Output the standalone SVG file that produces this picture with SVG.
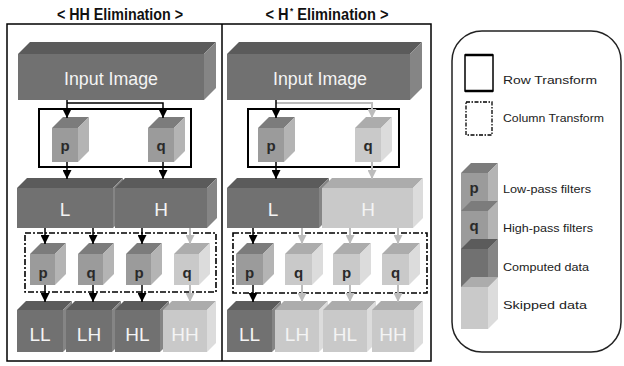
<svg xmlns="http://www.w3.org/2000/svg" width="624" height="366" viewBox="0 0 624 366">
<style>
.cf{fill:#717171}.ct{fill:#5b5b5b}.cs{fill:#858585}
.sf{fill:#c9c9c9}.st{fill:#acacac}.ss{fill:#dcdcdc}
.ff{fill:#9b9b9b}.ft{fill:#7c7c7c}.fs{fill:#b4b4b4}
.title{font-family:"Liberation Sans",Arial,sans-serif;font-size:16px;font-weight:bold;fill:#111;text-anchor:middle}
.big{font-family:"Liberation Sans",Arial,sans-serif;font-size:19px;fill:#f4f4f4;text-anchor:middle}
.blk{font-family:"Liberation Sans",Arial,sans-serif;font-size:19px;fill:#f4f4f4;text-anchor:middle}
.flt{font-family:"Liberation Sans",Arial,sans-serif;font-size:15px;font-weight:bold;fill:#2a2a2a;text-anchor:middle}
.leg{font-family:"Liberation Sans",Arial,sans-serif;font-size:11px;fill:#222}
.row{fill:none;stroke:#000;stroke-width:2}
.col{fill:none;stroke:#000;stroke-width:1.6;stroke-dasharray:6 2 2 2}
.ab{fill:none;stroke:#000;stroke-width:1.5;marker-end:url(#mb)}
.ag{fill:none;stroke:#bcbcbc;stroke-width:2;marker-end:url(#mg)}
</style>
<defs>
<marker id="mb" viewBox="0 0 10 10" refX="10" refY="5" markerWidth="9" markerHeight="9" markerUnits="userSpaceOnUse" orient="auto"><path d="M0,0 L10,5 L0,10 z" fill="#000"/></marker>
<marker id="mg" viewBox="0 0 10 10" refX="10" refY="5" markerWidth="9" markerHeight="9" markerUnits="userSpaceOnUse" orient="auto"><path d="M0,0 L10,5 L0,10 z" fill="#bcbcbc"/></marker>
</defs>
<rect width="624" height="366" fill="#fff"/>

<g id="titles">
<text class="title" x="120" y="20" textLength="126" lengthAdjust="spacingAndGlyphs">&lt; HH Elimination &gt;</text>
<text class="title" x="327" y="20" textLength="123" lengthAdjust="spacingAndGlyphs">&lt; H<tspan dx="1.5" dy="-6" font-size="9">*</tspan><tspan dy="6"> Elimination &gt;</tspan></text>
</g>

<g id="frame">
<rect x="7" y="24" width="424" height="337" fill="none" stroke="#000" stroke-width="1.5"/>
<line x1="222" y1="24" x2="222" y2="361" stroke="#000" stroke-width="1.5"/>
</g>

<!-- LEFT PANEL -->
<g id="L-input">
<rect class="cf" x="18" y="54" width="186" height="46"/>
<polygon class="ct" points="18,54 30,42 216,42 204,54"/>
<polygon class="cs" points="204,54 216,42 216,88 204,100"/>
<text class="big" x="111" y="85" textLength="94" lengthAdjust="spacingAndGlyphs">Input Image</text>
</g>
<g id="L-rowbox"><rect class="row" x="39" y="109" width="152" height="58"/></g>
<g id="L-p1">
<rect class="ff" x="52" y="128" width="26" height="34"/>
<polygon class="ft" points="52,128 63,117 89,117 78,128"/>
<polygon class="fs" points="78,128 89,117 89,151 78,162"/>
<text class="flt" x="65" y="151">p</text>
</g>
<g id="L-q1">
<rect class="ff" x="148" y="128" width="26" height="34"/>
<polygon class="ft" points="148,128 159,117 185,117 174,128"/>
<polygon class="fs" points="174,128 185,117 185,151 174,162"/>
<text class="flt" x="161" y="151">q</text>
</g>
<g id="L-L">
<rect class="cf" x="17" y="188" width="96" height="40"/>
<polygon class="ct" points="17,188 27,178 123,178 113,188"/>
<polygon class="cs" points="113,188 123,178 123,218 113,228"/>
<text class="blk" x="65" y="216">L</text>
</g>
<g id="L-H">
<rect class="cf" x="115" y="188" width="92" height="40"/>
<polygon class="ct" points="115,188 125,178 217,178 207,188"/>
<polygon class="cs" points="207,188 217,178 217,218 207,228"/>
<text class="blk" x="161" y="216">H</text>
</g>
<g id="L-colbox"><rect class="col" x="25" y="233" width="191" height="59"/></g>
<g id="L-p2">
<rect class="ff" x="30" y="254" width="25" height="31"/>
<polygon class="ft" points="30,254 41,243 66,243 55,254"/>
<polygon class="fs" points="55,254 66,243 66,274 55,285"/>
<text class="flt" x="43" y="278">p</text>
</g>
<g id="L-q2">
<rect class="ff" x="78" y="254" width="25" height="31"/>
<polygon class="ft" points="78,254 89,243 114,243 103,254"/>
<polygon class="fs" points="103,254 114,243 114,274 103,285"/>
<text class="flt" x="91" y="278">q</text>
</g>
<g id="L-p3">
<rect class="ff" x="126" y="254" width="25" height="31"/>
<polygon class="ft" points="126,254 137,243 162,243 151,254"/>
<polygon class="fs" points="151,254 162,243 162,274 151,285"/>
<text class="flt" x="139" y="278">p</text>
</g>
<g id="L-q3">
<rect class="sf" x="174" y="254" width="25" height="31"/>
<polygon class="st" points="174,254 185,243 210,243 199,254"/>
<polygon class="ss" points="199,254 210,243 210,274 199,285"/>
<text class="flt" x="187" y="278">q</text>
</g>
<g id="L-LL">
<rect class="cf" x="17" y="310" width="46" height="42"/>
<polygon class="ct" points="17,310 26,301 72,301 63,310"/>
<polygon class="cs" points="63,310 72,301 72,343 63,352"/>
<text class="blk" x="40" y="341">LL</text>
</g>
<g id="L-LH">
<rect class="cf" x="66" y="310" width="46" height="42"/>
<polygon class="ct" points="66,310 75,301 121,301 112,310"/>
<polygon class="cs" points="112,310 121,301 121,343 112,352"/>
<text class="blk" x="89" y="341">LH</text>
</g>
<g id="L-HL">
<rect class="cf" x="115" y="310" width="45" height="42"/>
<polygon class="ct" points="115,310 124,301 169,301 160,310"/>
<polygon class="cs" points="160,310 169,301 169,343 160,352"/>
<text class="blk" x="137.5" y="341">HL</text>
</g>
<g id="L-HH">
<rect class="sf" x="163" y="310" width="44" height="42"/>
<polygon class="st" points="163,310 172,301 216,301 207,310"/>
<polygon class="ss" points="207,310 216,301 216,343 207,352"/>
<text class="blk" x="185" y="341">HH</text>
</g>

<!-- RIGHT PANEL -->
<g id="R-input">
<rect class="cf" x="227" y="54" width="183" height="46"/>
<polygon class="ct" points="227,54 239,42 422,42 410,54"/>
<polygon class="cs" points="410,54 422,42 422,88 410,100"/>
<text class="big" x="320" y="85" textLength="94" lengthAdjust="spacingAndGlyphs">Input Image</text>
</g>
<g id="R-rowbox"><rect class="row" x="248" y="109" width="151" height="58"/></g>
<g id="R-p1">
<rect class="ff" x="258" y="128" width="26" height="34"/>
<polygon class="ft" points="258,128 269,117 295,117 284,128"/>
<polygon class="fs" points="284,128 295,117 295,151 284,162"/>
<text class="flt" x="271" y="151">p</text>
</g>
<g id="R-q1">
<rect class="sf" x="355" y="128" width="26" height="34"/>
<polygon class="st" points="355,128 366,117 392,117 381,128"/>
<polygon class="ss" points="381,128 392,117 392,151 381,162"/>
<text class="flt" x="368" y="151">q</text>
</g>
<g id="R-L">
<rect class="cf" x="227" y="188" width="92" height="40"/>
<polygon class="ct" points="227,188 237,178 329,178 319,188"/>
<polygon class="cs" points="319,188 329,178 329,218 319,228"/>
<text class="blk" x="273" y="216">L</text>
</g>
<g id="R-H">
<rect class="sf" x="322" y="188" width="91" height="40"/>
<polygon class="st" points="322,188 332,178 423,178 413,188"/>
<polygon class="ss" points="413,188 423,178 423,218 413,228"/>
<text class="blk" x="368" y="216">H</text>
</g>
<g id="R-colbox"><rect class="col" x="233" y="233" width="194" height="60"/></g>
<g id="R-p2">
<rect class="ff" x="236" y="254" width="27" height="31"/>
<polygon class="ft" points="236,254 247,243 274,243 263,254"/>
<polygon class="fs" points="263,254 274,243 274,274 263,285"/>
<text class="flt" x="249.5" y="278">p</text>
</g>
<g id="R-q2">
<rect class="sf" x="285" y="254" width="27" height="31"/>
<polygon class="st" points="285,254 296,243 323,243 312,254"/>
<polygon class="ss" points="312,254 323,243 323,274 312,285"/>
<text class="flt" x="298.5" y="278">q</text>
</g>
<g id="R-p3">
<rect class="sf" x="333" y="254" width="27" height="31"/>
<polygon class="st" points="333,254 344,243 371,243 360,254"/>
<polygon class="ss" points="360,254 371,243 371,274 360,285"/>
<text class="flt" x="346.5" y="278">p</text>
</g>
<g id="R-q3">
<rect class="sf" x="382" y="254" width="27" height="31"/>
<polygon class="st" points="382,254 393,243 420,243 409,254"/>
<polygon class="ss" points="409,254 420,243 420,274 409,285"/>
<text class="flt" x="395.5" y="278">q</text>
</g>
<g id="R-LL">
<rect class="cf" x="227" y="310" width="45" height="42"/>
<polygon class="ct" points="227,310 236,301 281,301 272,310"/>
<polygon class="cs" points="272,310 281,301 281,343 272,352"/>
<text class="blk" x="249.5" y="341">LL</text>
</g>
<g id="R-LH">
<rect class="sf" x="275" y="310" width="44" height="42"/>
<polygon class="st" points="275,310 284,301 328,301 319,310"/>
<polygon class="ss" points="319,310 328,301 328,343 319,352"/>
<text class="blk" x="297" y="341">LH</text>
</g>
<g id="R-HL">
<rect class="sf" x="323" y="310" width="44" height="42"/>
<polygon class="st" points="323,310 332,301 376,301 367,310"/>
<polygon class="ss" points="367,310 376,301 376,343 367,352"/>
<text class="blk" x="345" y="341">HL</text>
</g>
<g id="R-HH">
<rect class="sf" x="372" y="310" width="42" height="42"/>
<polygon class="st" points="372,310 381,301 423,301 414,310"/>
<polygon class="ss" points="414,310 423,301 423,343 414,352"/>
<text class="blk" x="393" y="341">HH</text>
</g>

<g id="connectors">
<!-- left panel -->
<line class="ab" x1="67" y1="100" x2="67" y2="118"/>
<polyline class="ab" points="67,103 163,103 163,118"/>
<line class="ab" x1="67" y1="162" x2="67" y2="179"/>
<line class="ab" x1="163" y1="162" x2="163" y2="179"/>
<line class="ab" x1="45" y1="228" x2="45" y2="244"/>
<line class="ab" x1="93" y1="228" x2="93" y2="244"/>
<line class="ab" x1="142" y1="228" x2="142" y2="244"/>
<line class="ag" x1="190" y1="228" x2="190" y2="244"/>
<line class="ab" x1="45" y1="285" x2="45" y2="302"/>
<line class="ab" x1="93" y1="285" x2="93" y2="302"/>
<line class="ab" x1="142" y1="285" x2="142" y2="302"/>
<line class="ag" x1="190" y1="285" x2="190" y2="302"/>
<!-- right panel -->
<polyline class="ag" points="276,103 372,103 372,118"/>
<line class="ab" x1="276" y1="100" x2="276" y2="118"/>
<line class="ab" x1="276" y1="162" x2="276" y2="179"/>
<line class="ag" x1="372" y1="162" x2="372" y2="179"/>
<line class="ab" x1="253" y1="228" x2="253" y2="244"/>
<line class="ag" x1="302" y1="228" x2="302" y2="244"/>
<line class="ag" x1="350" y1="228" x2="350" y2="244"/>
<line class="ag" x1="398" y1="228" x2="398" y2="244"/>
<line class="ab" x1="253" y1="285" x2="253" y2="302"/>
<line class="ag" x1="302" y1="285" x2="302" y2="302"/>
<line class="ag" x1="350" y1="285" x2="350" y2="302"/>
<line class="ag" x1="398" y1="285" x2="398" y2="302"/>
</g>

<!-- LEGEND -->
<g id="legend">
<rect x="452" y="31" width="169" height="321" rx="30" ry="30" fill="none" stroke="#222" stroke-width="1.5"/>
<g id="leg-row">
<rect x="465" y="55" width="28" height="36" fill="none" stroke="#000" stroke-width="1.5"/>
<line x1="465" y1="55" x2="493" y2="55" stroke="#000" stroke-width="2.5"/>
<line x1="465" y1="91" x2="493" y2="91" stroke="#000" stroke-width="2.5"/>
<text class="leg" x="503" y="84" textLength="94" lengthAdjust="spacingAndGlyphs">Row Transform</text>
</g>
<g id="leg-col">
<rect x="466" y="102" width="26" height="33" fill="none" stroke="#000" stroke-width="1.3" stroke-dasharray="4 1.5 1.5 1.5"/>
<text class="leg" x="503" y="122" textLength="101" lengthAdjust="spacingAndGlyphs">Column Transform</text>
</g>
<g id="leg-p">
<rect class="ff" x="461" y="173" width="27" height="42"/>
<polygon class="ft" points="461,173 471,163 498,163 488,173"/>
<polygon class="fs" points="488,173 498,163 498,205 488,215"/>
<text class="flt" x="474" y="193">p</text>
<text class="leg" x="503" y="193" textLength="88" lengthAdjust="spacingAndGlyphs">Low-pass filters</text>
</g>
<g id="leg-q">
<rect class="ff" x="461" y="211" width="27" height="42"/>
<polygon class="ft" points="461,211 471,201 498,201 488,211"/>
<polygon class="fs" points="488,211 498,201 498,243 488,253"/>
<text class="flt" x="474" y="231">q</text>
<text class="leg" x="503" y="232" textLength="90" lengthAdjust="spacingAndGlyphs">High-pass filters</text>
</g>
<g id="leg-computed">
<rect class="cf" x="461" y="249" width="27" height="42"/>
<polygon class="ct" points="461,249 471,239 498,239 488,249"/>
<polygon class="cs" points="488,249 498,239 498,281 488,291"/>
<text class="leg" x="503" y="271" textLength="86" lengthAdjust="spacingAndGlyphs">Computed data</text>
</g>
<g id="leg-skipped">
<rect class="sf" x="461" y="287" width="27" height="42"/>
<polygon class="st" points="461,287 471,277 498,277 488,287"/>
<polygon class="ss" points="488,287 498,277 498,319 488,329"/>
<text class="leg" x="503" y="309" textLength="84" lengthAdjust="spacingAndGlyphs">Skipped data</text>
</g>
</g>
</svg>
